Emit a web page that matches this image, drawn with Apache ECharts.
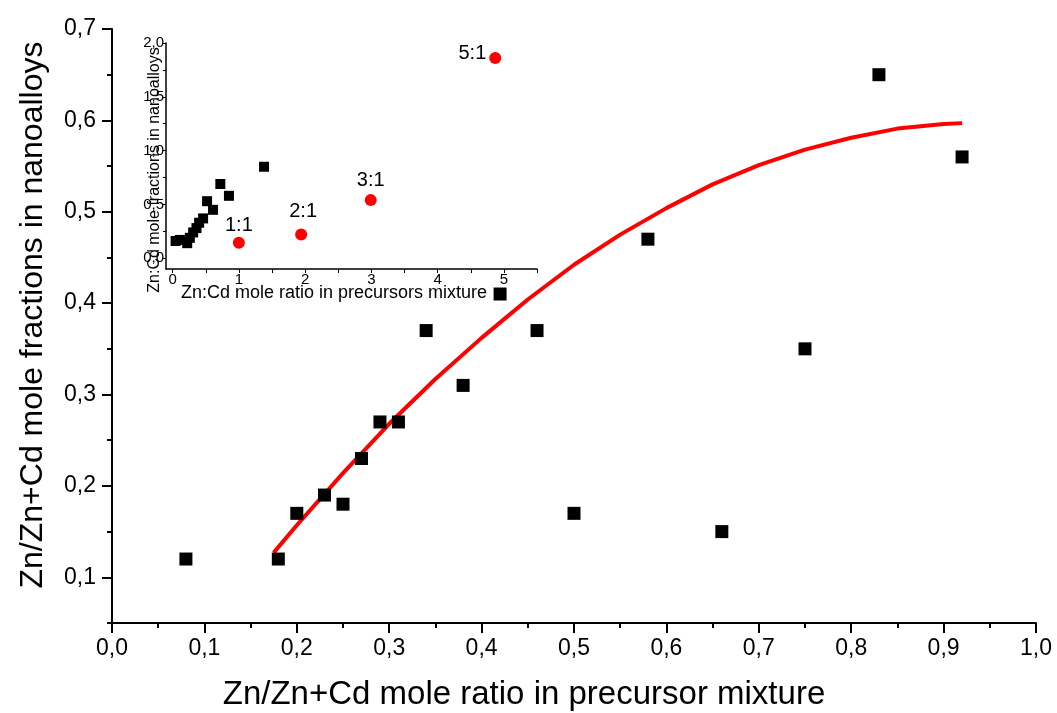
<!DOCTYPE html>
<html>
<head>
<meta charset="utf-8">
<script src="https://cdn.jsdelivr.net/npm/echarts@6/dist/echarts.min.js"></script>
<style>
  html, body { margin: 0; padding: 0; background: #fff; }
  #chart { width: 1057px; height: 713px; }
</style>
</head>
<body>
<div id="chart"></div>
<script>
// Main panel: Zn fraction in precursor mixture vs. Zn fraction in nanoalloys
const mixFraction   = [0.08, 0.18, 0.20, 0.23, 0.25, 0.27, 0.29, 0.31, 0.34, 0.38, 0.42, 0.46, 0.50, 0.58, 0.66, 0.75, 0.83, 0.92];
const alloyFraction = [0.12, 0.12, 0.17, 0.19, 0.18, 0.23, 0.27, 0.27, 0.37, 0.31, 0.41, 0.37, 0.17, 0.47, 0.15, 0.35, 0.65, 0.56];

// Fitted trend curve, sampled along its length
const fitX = [0.175, 0.20, 0.25, 0.30, 0.35, 0.40, 0.45, 0.50, 0.55, 0.60, 0.65, 0.70, 0.75, 0.80, 0.85, 0.90, 0.92];
const fitY = [0.127, 0.157, 0.214, 0.268, 0.317, 0.362, 0.404, 0.442, 0.475, 0.504, 0.530, 0.551, 0.568, 0.581, 0.591, 0.596, 0.597];

// Inset: Zn:Cd mole ratios
const ratioMixX   = [0.045, 0.11, 0.22, 0.26, 0.31, 0.36, 0.40, 0.46, 0.52, 0.61, 0.72, 0.85, 1.38];
const ratioAlloyY = [0.16, 0.17, 0.14, 0.19, 0.24, 0.28, 0.33, 0.37, 0.53, 0.45, 0.69, 0.58, 0.85];

// Inset: reference ratios (red markers)
const refRatioX = [1.0, 1.94, 2.99, 4.87];
const refRatioY = [0.145, 0.22, 0.54, 1.86];
const refNames  = ['1:1', '2:1', '3:1', '5:1'];

// Tick values
const mainYTicks      = [0.1, 0.2, 0.3, 0.4, 0.5, 0.6, 0.7];
const mainYMinorTicks = [0.05, 0.15, 0.25, 0.35, 0.45, 0.55, 0.65];
const insetXLabels    = [0, 1, 2, 3, 4, 5];
const insetXTicks     = [0, 0.5, 1, 1.5, 2, 2.5, 3, 3.5, 4, 4.5, 5, 5.5];
const insetYLabels    = [0, 0.5, 1.0, 1.5, 2.0];
const insetYTicks     = [0, 0.25, 0.5, 0.75, 1.0, 1.25, 1.5, 1.75, 2.0];

const FONT = 'Liberation Sans, Arial, sans-serif';
const comma = v => Number(v).toFixed(1).replace('.', ',');
const pairs = (xs, ys) => xs.map((x, i) => [x, ys[i]]);

// label placement for the red reference markers
const refLabelPlacement = {
  '1:1': { position: 'top', distance: 1, offset: [0, 0] },
  '2:1': { position: 'top', distance: 7, offset: [2, 0] },
  '3:1': { position: 'top', distance: 4, offset: [0, 0] },
  '5:1': { position: 'left', distance: 3, offset: [0, -5] }
};

const chart = echarts.init(document.getElementById('chart'), null, { renderer: 'canvas' });

const option = {
  animation: false,
  backgroundColor: '#fff',
  textStyle: { fontFamily: FONT },
  grid: [
    { left: 112, top: 29, width: 924, height: 594, containLabel: false },
    { left: 166, top: 43, width: 371, height: 226, containLabel: false }
  ],
  xAxis: [
    {
      gridIndex: 0, type: 'value', min: 0, max: 1, interval: 0.1,
      axisLine: { show: true, onZero: false, lineStyle: { color: '#000', width: 2 } },
      axisTick: { show: true, inside: false, length: 10, lineStyle: { color: '#000', width: 2 } },
      minorTick: { show: true, splitNumber: 2, length: 5, lineStyle: { color: '#000', width: 2 } },
      splitLine: { show: false },
      axisLabel: {
        margin: 14, fontSize: 23, color: '#000', fontFamily: FONT,
        formatter: comma, showMinLabel: true, showMaxLabel: true
      }
    },
    {
      gridIndex: 1, type: 'value', min: -0.1, max: 5.5,
      axisLine: { show: true, onZero: false, lineStyle: { color: '#000', width: 1.5 } },
      axisTick: { show: true, inside: false, length: 4, customValues: insetXTicks, lineStyle: { color: '#000', width: 1 } },
      splitLine: { show: false },
      axisLabel: {
        margin: 3, fontSize: 15, color: '#000', fontFamily: FONT,
        customValues: insetXLabels, formatter: v => String(Math.round(v))
      }
    }
  ],
  yAxis: [
    {
      gridIndex: 0, type: 'value', min: 0.05, max: 0.7, position: 'left',
      axisLine: { show: true, onZero: false, lineStyle: { color: '#000', width: 2 } },
      axisTick: { show: true, inside: false, length: 10, customValues: mainYTicks, lineStyle: { color: '#000', width: 2 } },
      splitLine: { show: false },
      axisLabel: {
        margin: 16, fontSize: 23, color: '#000', fontFamily: FONT,
        customValues: mainYTicks, formatter: comma
      }
    },
    {
      // minor ticks of the main y axis
      gridIndex: 0, type: 'value', min: 0.05, max: 0.7, position: 'left',
      axisLine: { show: false, onZero: false },
      axisTick: { show: true, inside: false, length: 5, customValues: mainYMinorTicks, lineStyle: { color: '#000', width: 2 } },
      splitLine: { show: false },
      axisLabel: { show: false }
    },
    {
      gridIndex: 1, type: 'value', min: -0.1, max: 2.0, position: 'left',
      axisLine: { show: true, onZero: false, lineStyle: { color: '#000', width: 1.5 } },
      axisTick: { show: true, inside: false, length: 3, customValues: insetYTicks, lineStyle: { color: '#000', width: 1 } },
      splitLine: { show: false },
      axisLabel: {
        margin: 2, fontSize: 15, color: '#000', fontFamily: FONT,
        customValues: insetYLabels, formatter: comma
      }
    }
  ],
  series: [
    {
      name: 'nanoalloys', type: 'scatter', xAxisIndex: 0, yAxisIndex: 0,
      symbol: 'rect', symbolSize: 13,
      itemStyle: { color: '#000', opacity: 1 },
      data: pairs(mixFraction, alloyFraction), z: 3
    },
    {
      name: 'fit', type: 'line', xAxisIndex: 0, yAxisIndex: 0,
      smooth: false, showSymbol: false, symbol: 'none',
      lineStyle: { color: '#ff0000', width: 4, join: 'round', cap: 'butt' },
      data: pairs(fitX, fitY), z: 2
    },
    {
      name: 'ratios', type: 'scatter', xAxisIndex: 1, yAxisIndex: 2,
      symbol: 'rect', symbolSize: 10,
      itemStyle: { color: '#000', opacity: 1 },
      data: pairs(ratioMixX, ratioAlloyY)
    },
    {
      name: 'reference', type: 'scatter', xAxisIndex: 1, yAxisIndex: 2,
      symbol: 'circle', symbolSize: 12,
      itemStyle: { color: '#ff0000', opacity: 1 },
      data: refNames.map((n, i) => ({
        name: n,
        value: [refRatioX[i], refRatioY[i]],
        label: Object.assign({
          show: true, formatter: '{b}', fontSize: 20, color: '#000', fontFamily: FONT
        }, refLabelPlacement[n])
      }))
    }
  ],
  graphic: [
    {
      type: 'text', x: 524, y: 695,
      style: {
        text: 'Zn/Zn+Cd mole ratio in precursor mixture',
        x: 0, y: 0, align: 'center', verticalAlign: 'middle',
        fontSize: 33, fontFamily: FONT, fill: '#000'
      }
    },
    {
      type: 'text', x: 33, y: 315, rotation: Math.PI / 2,
      style: {
        text: 'Zn/Zn+Cd mole fractions in nanoalloys',
        x: 0, y: 0, align: 'center', verticalAlign: 'middle',
        fontSize: 32, fontFamily: FONT, fill: '#000'
      }
    },
    {
      type: 'text', x: 334, y: 293,
      style: {
        text: 'Zn:Cd mole ratio in precursors mixture',
        x: 0, y: 0, align: 'center', verticalAlign: 'middle',
        fontSize: 18, fontFamily: FONT, fill: '#000'
      }
    },
    {
      type: 'text', x: 155, y: 170, rotation: Math.PI / 2,
      style: {
        text: 'Zn:Cd mole fractions in nanoalloys',
        x: 0, y: 0, align: 'center', verticalAlign: 'middle',
        fontSize: 16, fontFamily: FONT, fill: '#000'
      }
    }
  ]
};

chart.setOption(option);
</script>
</body>
</html>
